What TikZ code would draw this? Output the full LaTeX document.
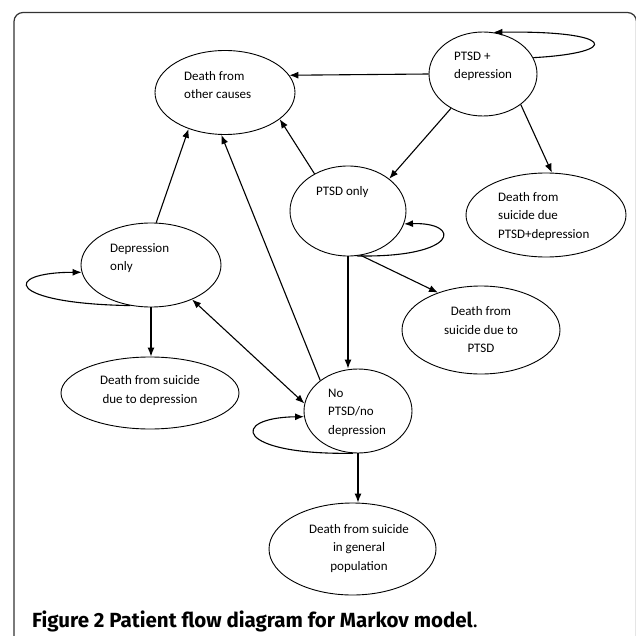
\documentclass[tikz,border=0pt]{standalone}
\usepackage{fontspec}
\setmainfont{Carlito}
\newfontfamily\capfont{Fira Sans}
\usetikzlibrary{shapes.geometric,arrows.meta}
\tikzset{
  st/.style={draw,ellipse,inner sep=0pt,line width=0.9pt},
  lbl/.style={inner sep=0pt,font=\fontsize{13}{18.5}\selectfont},
  arr/.style={line width=1.1pt,-{Latex[length=9pt,width=7pt]}},
  darr/.style={line width=1.1pt,{Latex[length=9pt,width=7pt]}-{Latex[length=9pt,width=7pt]}}
}
\begin{document}
\begin{tikzpicture}[x=1pt,y=-1pt]
\useasboundingbox (0,0) rectangle (636,636);
\draw[line width=1.2pt,rounded corners=9pt,black!80] (14,660) -- (14,12.5) -- (636.5,12.5) -- (636.5,660);
% states
\node[st,minimum width=140pt,minimum height=84pt] (oth) at (225,92.5) {};
\node[st,minimum width=108pt,minimum height=84pt] (pd) at (483,74) {};
\node[st,minimum width=116pt,minimum height=90pt] (po) at (348,211) {};
\node[st,minimum width=160pt,minimum height=84pt] (spd) at (546,215) {};
\node[st,minimum width=140pt,minimum height=84pt] (dep) at (151,265) {};
\node[st,minimum width=158pt,minimum height=88pt] (sp) at (481,330) {};
\node[st,minimum width=178pt,minimum height=72pt] (sd) at (150,393) {};
\node[st,minimum width=108pt,minimum height=84pt] (np) at (358,411) {};
\node[st,minimum width=167pt,minimum height=92pt] (gp) at (352.5,549) {};
% labels
\node[lbl,anchor=west,align=left] (othT) at (184,85) {Death from\\other causes};
\node[lbl,anchor=west,align=left] (pdT) at (454,66.5) {PTSD +\\depression};
\node[lbl,anchor=west,align=left] (poT) at (316,192) {PTSD only};
\node[lbl,anchor=west,align=left] (spdT) at (498,216.5) {Death from\\suicide due\\PTSD+depression};
\node[lbl,anchor=west,align=left] (depT) at (110,258) {Depression\\only};
\node[lbl,align=center] (spT) at (481,330) {Death from\\suicide due to\\PTSD};
\node[lbl,align=center] (sdT) at (150,390.5) {Death from suicide\\due to depression};
\node[lbl,anchor=west,align=left] (npT) at (328,412.5) {No\\PTSD/no\\depression};
\node[lbl,align=center] (gpT) at (359,548.5) {Death from suicide\\in general\\population};
% transitions
\draw[arr] (pd.180) -- (oth.15);
\draw[arr] (pd.18) .. controls +(90,-5) and +(122,-2) .. (pd.76);
\draw[arr] (pd.227) -- (po.38);
\draw[arr] (pd.321) -- (spd.82);
\draw[arr] (po.132) -- (oth.334);
\draw[arr] (po.281) .. controls +(103,2) and +(58,-2) .. (po.347);
\draw[arr] (po.286) -- (sp.139);
\draw[arr] (po.south) -- (po.south |- np.north);
\draw[arr] (dep.83) -- (oth.225);
\draw[arr] (dep.243) .. controls +(-125,-2) and +(-80,0) .. (dep.186);
\draw[arr] (dep.south) -- (dep.south |- sd.north);
\draw[darr] (dep.320) -- (np.172);
\draw[arr] (np.141) -- (oth.265);
\draw[arr] (np.263) .. controls +(-118,2) and +(-75,1) .. (np.186);
\draw[arr] (np.south) -- (np.south |- gp.north);
% caption
\node[anchor=base west,inner sep=0pt,font=\capfont\fontsize{20.5}{24}\selectfont] (cap) at (32,627) {\textbf{Figure 2 Patient flow diagram for Markov model}.};
\end{tikzpicture}
\end{document}
